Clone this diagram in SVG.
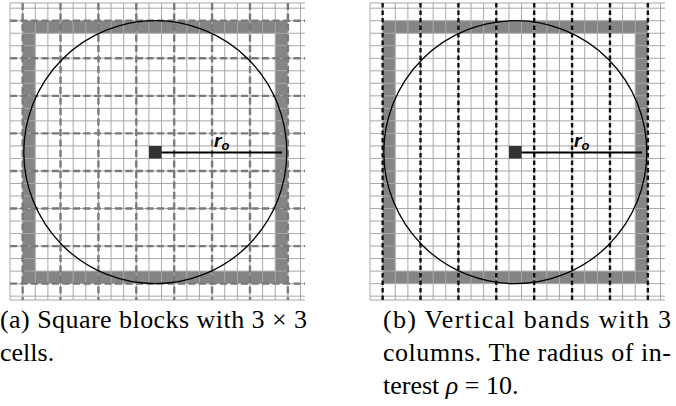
<svg xmlns="http://www.w3.org/2000/svg" width="676" height="406" viewBox="0 0 676 406">
<defs>
<style>
.bg{fill:#ffffff}
.ring{fill:none;stroke:#858585;stroke-width:12.6}
.grid{stroke:#a8a8a8;stroke-width:1}
.dg{stroke:#7a7a7a;stroke-width:2.4;stroke-dasharray:7 3.5}
.db{stroke:#111111;stroke-width:2.4;stroke-dasharray:4.5 3}
.circ{fill:none;stroke:#000;stroke-width:1.3}
.ctr{fill:#333}
.rad{stroke:#000;stroke-width:2}
.lbl{font-weight:bold;font-style:italic;fill:#000}
.cap{fill:#000}
</style>
<g id="gridlines">
<line x1="10" y1="3" x2="10" y2="300"/><line x1="22.63" y1="3" x2="22.63" y2="300"/><line x1="35.26" y1="3" x2="35.26" y2="300"/><line x1="47.89" y1="3" x2="47.89" y2="300"/><line x1="60.52" y1="3" x2="60.52" y2="300"/><line x1="73.15" y1="3" x2="73.15" y2="300"/><line x1="85.78" y1="3" x2="85.78" y2="300"/><line x1="98.41" y1="3" x2="98.41" y2="300"/><line x1="111.04" y1="3" x2="111.04" y2="300"/><line x1="123.67" y1="3" x2="123.67" y2="300"/><line x1="136.3" y1="3" x2="136.3" y2="300"/><line x1="148.93" y1="3" x2="148.93" y2="300"/><line x1="161.56" y1="3" x2="161.56" y2="300"/><line x1="174.19" y1="3" x2="174.19" y2="300"/><line x1="186.82" y1="3" x2="186.82" y2="300"/><line x1="199.45" y1="3" x2="199.45" y2="300"/><line x1="212.08" y1="3" x2="212.08" y2="300"/><line x1="224.71" y1="3" x2="224.71" y2="300"/><line x1="237.34" y1="3" x2="237.34" y2="300"/><line x1="249.97" y1="3" x2="249.97" y2="300"/><line x1="262.6" y1="3" x2="262.6" y2="300"/><line x1="275.23" y1="3" x2="275.23" y2="300"/><line x1="287.86" y1="3" x2="287.86" y2="300"/><line x1="300.49" y1="3" x2="300.49" y2="300"/>
<line x1="10" y1="3" x2="305" y2="3"/><line x1="10" y1="8.2" x2="305" y2="8.2"/><line x1="10" y1="20.72" x2="305" y2="20.72"/><line x1="10" y1="33.24" x2="305" y2="33.24"/><line x1="10" y1="45.76" x2="305" y2="45.76"/><line x1="10" y1="58.28" x2="305" y2="58.28"/><line x1="10" y1="70.8" x2="305" y2="70.8"/><line x1="10" y1="83.32" x2="305" y2="83.32"/><line x1="10" y1="95.84" x2="305" y2="95.84"/><line x1="10" y1="108.36" x2="305" y2="108.36"/><line x1="10" y1="120.88" x2="305" y2="120.88"/><line x1="10" y1="133.4" x2="305" y2="133.4"/><line x1="10" y1="145.92" x2="305" y2="145.92"/><line x1="10" y1="158.44" x2="305" y2="158.44"/><line x1="10" y1="170.96" x2="305" y2="170.96"/><line x1="10" y1="183.48" x2="305" y2="183.48"/><line x1="10" y1="196" x2="305" y2="196"/><line x1="10" y1="208.52" x2="305" y2="208.52"/><line x1="10" y1="221.04" x2="305" y2="221.04"/><line x1="10" y1="233.56" x2="305" y2="233.56"/><line x1="10" y1="246.08" x2="305" y2="246.08"/><line x1="10" y1="258.6" x2="305" y2="258.6"/><line x1="10" y1="271.12" x2="305" y2="271.12"/><line x1="10" y1="283.64" x2="305" y2="283.64"/><line x1="10" y1="296.16" x2="305" y2="296.16"/><line x1="10" y1="300" x2="305" y2="300"/>
</g>
<g id="dashV">
<line x1="22.63" y1="3" x2="22.63" y2="300"/><line x1="60.52" y1="3" x2="60.52" y2="300"/><line x1="98.41" y1="3" x2="98.41" y2="300"/><line x1="136.3" y1="3" x2="136.3" y2="300"/><line x1="174.19" y1="3" x2="174.19" y2="300"/><line x1="212.08" y1="3" x2="212.08" y2="300"/><line x1="249.97" y1="3" x2="249.97" y2="300"/><line x1="287.86" y1="3" x2="287.86" y2="300"/>
</g>
</defs>
<rect class="bg" x="0" y="0" width="676" height="406"/>

<g id="panel-a">
<rect class="ring" x="28.9" y="27" width="252.7" height="250.4"/>
<use class="grid" href="#gridlines"/>
<g class="dg">
<use href="#dashV"/>
<line x1="10" y1="20.72" x2="305" y2="20.72"/><line x1="10" y1="58.28" x2="305" y2="58.28"/><line x1="10" y1="95.84" x2="305" y2="95.84"/><line x1="10" y1="133.4" x2="305" y2="133.4"/><line x1="10" y1="170.96" x2="305" y2="170.96"/><line x1="10" y1="208.52" x2="305" y2="208.52"/><line x1="10" y1="246.08" x2="305" y2="246.08"/><line x1="10" y1="283.64" x2="305" y2="283.64"/>
</g>
<circle class="circ" cx="155.3" cy="152.2" r="131.5"/>
<g id="center-a"><rect class="ctr" x="149" y="146" width="12.6" height="12.5"/></g>
<line class="rad" x1="161.6" y1="152.5" x2="282" y2="152.5"/>
<text class="lbl" x="214" y="147" font-family="Liberation Sans, sans-serif" font-size="19">r<tspan font-size="13" dy="3">o</tspan></text>
</g>

<g id="panel-b" transform="translate(360,0)">
<rect class="ring" x="28.9" y="27" width="252.7" height="250.4"/>
<use class="grid" href="#gridlines"/>
<use class="db" href="#dashV"/>
<circle class="circ" cx="155.3" cy="152.2" r="131.5"/>
<g id="center-b"><rect class="ctr" x="149" y="146" width="12.6" height="12.5"/></g>
<line class="rad" x1="161.6" y1="152.5" x2="282" y2="152.5"/>
<text class="lbl" x="214" y="147" font-family="Liberation Sans, sans-serif" font-size="19">r<tspan font-size="13" dy="3">o</tspan></text>
</g>

<g id="captions" font-family="Liberation Serif, serif" font-size="26">
<text class="cap" x="0" y="328" textLength="307" lengthAdjust="spacing">(a) Square blocks with 3 × 3</text>
<text class="cap" x="0" y="361">cells.</text>
<text class="cap" x="383" y="328" textLength="288" lengthAdjust="spacing">(b) Vertical bands with 3</text>
<text class="cap" x="383" y="361" textLength="288" lengthAdjust="spacing">columns. The radius of in-</text>
<text class="cap" x="383" y="394">terest <tspan font-style="italic">ρ</tspan> = 10.</text>
</g>
</svg>
